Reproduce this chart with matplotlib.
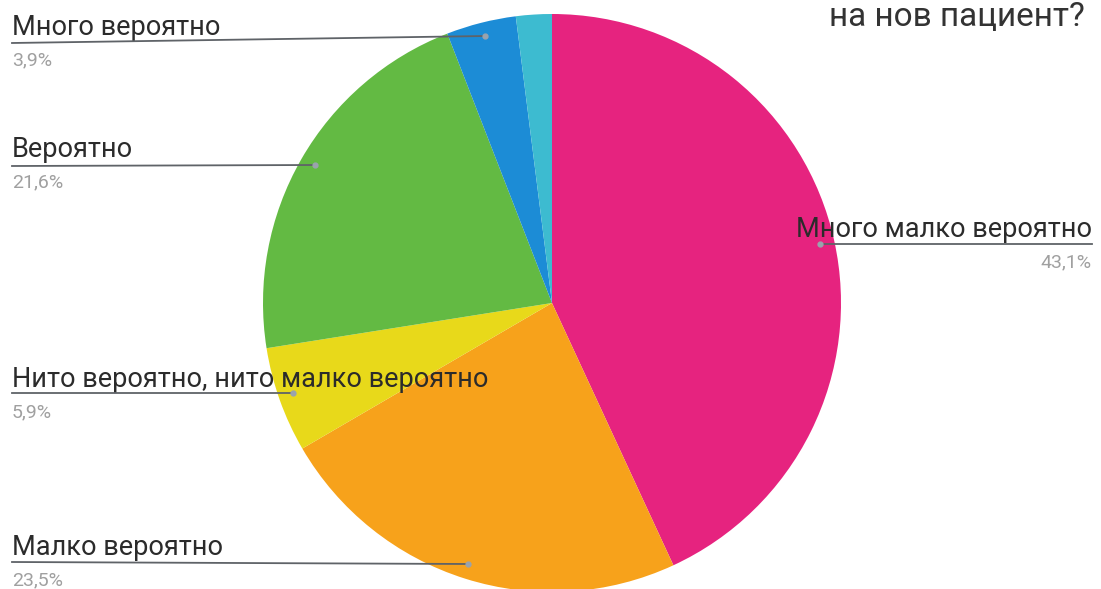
import matplotlib.pyplot as plt

plt.rcParams['font.family'] = ['Roboto', 'DejaVu Sans']

# answers, clockwise from 12 o'clock
labels = ['Много малко вероятно', 'Малко вероятно', 'Нито вероятно, нито малко вероятно',
          'Вероятно', 'Много вероятно', 'Друго']
shares = [43.1, 23.5, 5.9, 21.6, 3.9, 2.0]
pct_text = ['43,1%', '23,5%', '5,9%', '21,6%', '3,9%', '']
colors = ['#E6237F', '#F7A21B', '#E8D91A', '#63BA43', '#1C8CD6', '#3DBBD0']

W, H = 1101, 589
fig = plt.figure(figsize=(W / 100, H / 100), dpi=100)
ax = fig.add_axes([0, 0, 1, 1])

cx, cy, r = 552, H - 303, 289
ax.pie(shares, colors=colors, startangle=90, counterclock=False,
       center=(cx, cy), radius=r, frame=True,
       wedgeprops=dict(linewidth=0))
ax.set_xlim(0, W)
ax.set_ylim(0, H)
ax.axis('off')

# callouts: (text x, baseline y, line y, anchor x, anchor y, align)
callouts = {
    'Много вероятно': (12, 35, 43, 485, 36, 'left'),
    'Вероятно': (12, 157, 166, 315, 165, 'left'),
    'Нито вероятно, нито малко вероятно': (12, 387, 393, 293, 393, 'left'),
    'Малко вероятно': (12, 555, 562, 468, 564, 'left'),
    'Много малко вероятно': (1092, 237, 244, 820, 244, 'right'),
}

for name, pct in zip(labels, pct_text):
    if name not in callouts:
        continue
    tx, ty, ly, dx, dy, ha = callouts[name]
    ax.text(tx, H - ty, name, ha=ha, va='baseline', fontsize=19.5, color='#2b2b2b')
    ax.text(tx, H - ty - 30, pct, ha=ha, va='baseline', fontsize=14, color='#a0a0a0')
    ax.plot([tx, dx], [H - ly, H - dy], color='#5f6368', lw=1.3, zorder=5)
    ax.plot(dx, H - dy, 'o', ms=3.5, color='#9aa3ad', zorder=6)

ax.text(1085, H - 26, 'на нов пациент?', ha='right', va='baseline', fontsize=24, color='#333333')

fig.savefig('out.png', dpi=100)
